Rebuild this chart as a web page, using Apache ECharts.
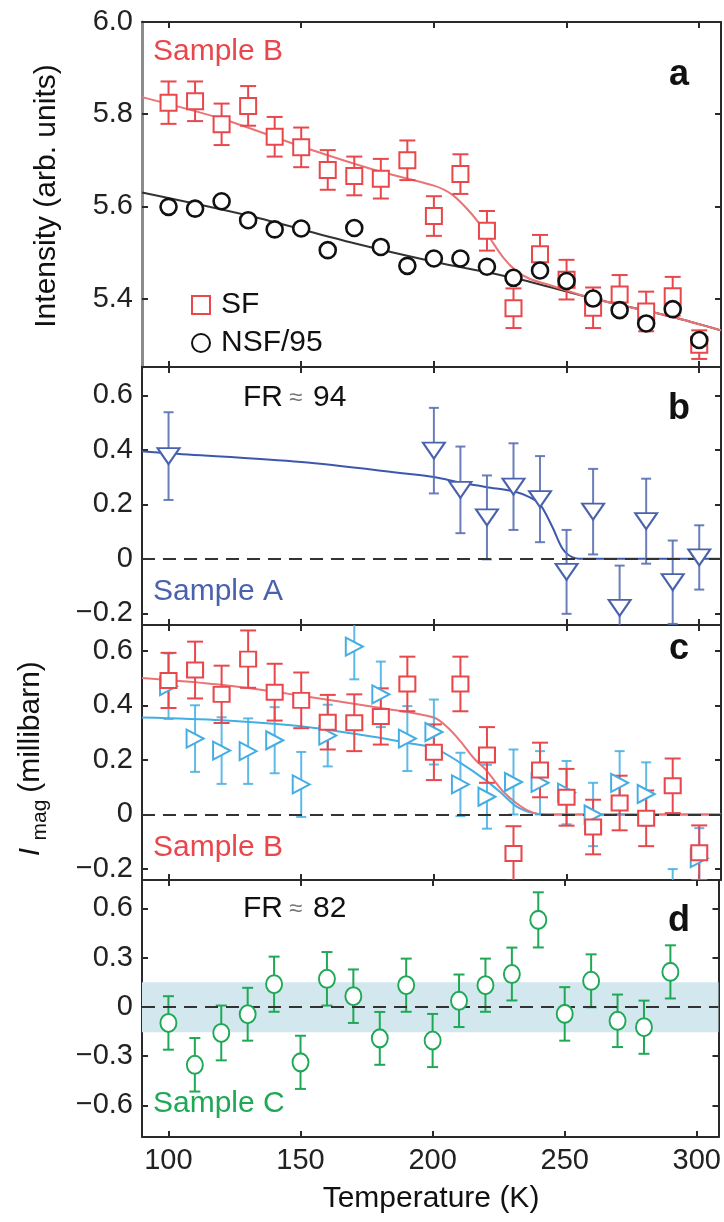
<!DOCTYPE html>
<html>
<head>
<meta charset="utf-8">
<script src="https://cdn.jsdelivr.net/npm/echarts@6/dist/echarts.min.js"></script>
<style>
  html, body { margin: 0; padding: 0; background: #fff; }
  #chart { width: 724px; height: 1222px; }
</style>
</head>
<body>
<div id="chart"></div>
<script>
// tick labels
const xTicks = [100, 150, 200, 250, 300];
const aTicks = [5.4, 5.6, 5.8, 6.0];
const bcTicks = [-0.2, 0, 0.2, 0.4, 0.6];
const dTicks = [-0.6, -0.3, 0, 0.3, 0.6];

// panel a: Sample B raw intensities
const temps = [100, 110, 120, 130, 140, 150, 160, 170, 180, 190, 200, 210, 220, 230, 240, 250, 260, 270, 280, 290, 300];
const sfInt = [5.825, 5.828, 5.778, 5.818, 5.751, 5.728, 5.679, 5.666, 5.660, 5.700, 5.579, 5.670, 5.547, 5.379, 5.496, 5.441, 5.380, 5.409, 5.372, 5.405, 5.300];
const sfErr = [0.046, 0.043, 0.045, 0.043, 0.043, 0.043, 0.043, 0.042, 0.043, 0.043, 0.043, 0.043, 0.043, 0.043, 0.042, 0.043, 0.044, 0.042, 0.043, 0.042, 0.031];
const nsfInt = [5.599, 5.595, 5.611, 5.570, 5.550, 5.552, 5.505, 5.553, 5.512, 5.471, 5.487, 5.487, 5.469, 5.445, 5.461, 5.438, 5.400, 5.375, 5.346, 5.377, 5.310];
const nsfErr = [0.008, 0.008, 0.008, 0.008, 0.008, 0.008, 0.008, 0.008, 0.008, 0.008, 0.008, 0.008, 0.008, 0.008, 0.008, 0.008, 0.008, 0.008, 0.008, 0.008, 0.008];
const fitSF = [[90, 5.837], [120, 5.79], [150, 5.73], [180, 5.675], [200, 5.645], [207, 5.625], [214, 5.585], [220, 5.54], [226, 5.49], [231, 5.46], [236, 5.443], [242, 5.432], [260, 5.40], [290, 5.36], [308.2, 5.331]];
const fitNSF = [[90, 5.63], [130, 5.58], [170, 5.52], [200, 5.48], [230, 5.445], [260, 5.40], [290, 5.36], [308.2, 5.331]];

// panel b: Sample A
const tempsA = [100, 200, 210, 220, 230, 240, 250, 260, 270, 280, 290, 300];
const magA = [0.377, 0.397, 0.253, 0.152, 0.265, 0.219, -0.048, 0.173, -0.18, 0.138, -0.086, 0.005];
const errA = [0.161, 0.157, 0.159, 0.154, 0.159, 0.158, 0.154, 0.157, 0.155, 0.156, 0.153, 0.118];
const fitA = [[90, 0.395], [100, 0.387], [150, 0.355], [190, 0.312], [200, 0.30], [210, 0.28], [220, 0.263], [230, 0.248], [236, 0.226], [240, 0.2], [244.7, 0.116], [248.5, 0.037], [252.3, 0.005], [256, 0], [308.2, 0]];

// panel c: Sample B magnetic intensity
const magBsq = [0.491, 0.529, 0.44, 0.569, 0.448, 0.418, 0.338, 0.336, 0.359, 0.478, 0.228, 0.478, 0.218, -0.143, 0.163, 0.063, -0.046, 0.042, -0.014, 0.105, -0.14];
const errBsq = [0.101, 0.104, 0.105, 0.105, 0.104, 0.102, 0.1, 0.104, 0.103, 0.1, 0.102, 0.1, 0.102, 0.1, 0.1, 0.104, 0.1, 0.1, 0.102, 0.1, 0.1];
const magBtri = [0.47, 0.278, 0.234, 0.232, 0.272, 0.11, 0.289, 0.615, 0.44, 0.278, 0.302, 0.11, 0.065, 0.119, 0.116, 0.08, 0.0, 0.116, 0.075, -0.32, -0.16];
const errBtri = [0.12, 0.122, 0.122, 0.12, 0.121, 0.119, 0.113, 0.12, 0.12, 0.119, 0.119, 0.116, 0.117, 0.119, 0.116, 0.116, 0.116, 0.116, 0.116, 0.12, 0.11];
const fitBsq = [[90, 0.50], [120, 0.475], [150, 0.435], [180, 0.39], [200, 0.355], [205, 0.32], [210, 0.268], [215, 0.207], [220, 0.159], [226, 0.085], [231, 0.042], [236, 0.012], [241, 0], [308.2, 0]];
const fitBtri = [[90, 0.355], [120, 0.345], [150, 0.323], [180, 0.28], [190, 0.262], [200, 0.244], [210, 0.189], [220, 0.122], [226, 0.073], [231, 0.03], [237, 0.006], [242, 0], [308.2, 0]];

// panel d: Sample C
const tempsC = [100, 110, 120, 130, 140, 150, 160, 170, 180, 190, 200, 210, 220, 230, 240, 250, 260, 270, 280, 290];
const magC = [-0.098, -0.353, -0.159, -0.045, 0.138, -0.338, 0.171, 0.065, -0.192, 0.132, -0.205, 0.037, 0.132, 0.2, 0.53, -0.043, 0.159, -0.085, -0.124, 0.213];
const errC = [0.163, 0.163, 0.167, 0.161, 0.168, 0.162, 0.163, 0.163, 0.161, 0.162, 0.162, 0.16, 0.162, 0.161, 0.168, 0.163, 0.161, 0.16, 0.162, 0.162];
const bandC = [-0.155, 0.15];

const FONT = '"Liberation Sans", Arial, Helvetica, sans-serif';
const AX = '#2a2a2a';
const RED = '#e8474c';
const RED_FIT = '#ec7375';
const BLUE = '#4a62ad';
const LBLUE = '#43aee3';
const GREEN = '#1fa855';

const panels = [
  { top: 22, height: 345, min: 5.2515, max: 6.0, ticks: aTicks },
  { top: 367, height: 258, min: -0.243, max: 0.704, ticks: bcTicks },
  { top: 625, height: 255, min: -0.24, max: 0.694, ticks: bcTicks },
  { top: 880, height: 257, min: -0.793, max: 0.773, ticks: dTicks },
];

const fmt = (v) => (v === 0 ? '0' : (v < 0 ? '\u2212' : '') + Math.abs(v).toFixed(1));

const grids = [];
const xAxes = [];
const yAxes = [];
panels.forEach((p, i) => {
  grids.push({ left: 142, right: 3, top: p.top, height: p.height });
  ['bottom', 'top'].forEach((pos) => {
    xAxes.push({
      type: 'value', gridIndex: i, position: pos, min: 90, max: 308.2,
      axisLine: { show: true, onZero: false, lineStyle: { color: AX, width: 2 } },
      axisTick: { show: true, inside: true, length: 6, customValues: xTicks, lineStyle: { color: AX, width: 2 } },
      axisLabel: {
        show: pos === 'bottom' && i === 3, customValues: xTicks, margin: 9,
        fontSize: 29, color: '#222', fontFamily: FONT,
      },
      splitLine: { show: false },
    });
  });
  ['left', 'right'].forEach((pos) => {
    const grey = i === 0 && pos === 'left';
    yAxes.push({
      type: 'value', gridIndex: i, position: pos, min: p.min, max: p.max,
      axisLine: { show: true, onZero: false, lineStyle: { color: grey ? '#8c8c8c' : AX, width: grey ? 3 : 2 } },
      axisTick: { show: true, inside: true, length: 6, customValues: p.ticks, lineStyle: { color: AX, width: 2 } },
      axisLabel: {
        show: pos === 'left', customValues: p.ticks, margin: 9, formatter: fmt,
        fontSize: 29, color: '#222', fontFamily: FONT,
      },
      splitLine: { show: false },
    });
  });
});

function errBars(gi, xs, ys, es, color, cap, opacity) {
  return {
    type: 'custom', xAxisIndex: gi * 2, yAxisIndex: gi * 2, z: 3, silent: true, clip: true,
    data: xs.map((x, k) => [x, ys[k] - es[k], ys[k] + es[k]]),
    renderItem: (params, api) => {
      const lo = api.coord([api.value(0), api.value(1)]);
      const hi = api.coord([api.value(0), api.value(2)]);
      const h = cap / 2;
      const style = { stroke: color, lineWidth: 2, opacity: opacity || 1 };
      return {
        type: 'group',
        children: [
          { type: 'line', shape: { x1: lo[0], y1: lo[1], x2: hi[0], y2: hi[1] }, style },
          { type: 'line', shape: { x1: lo[0] - h, y1: lo[1], x2: lo[0] + h, y2: lo[1] }, style },
          { type: 'line', shape: { x1: hi[0] - h, y1: hi[1], x2: hi[0] + h, y2: hi[1] }, style },
        ],
      };
    },
  };
}

function marks(gi, name, xs, ys, symbol, size, color, rotate, bw) {
  return {
    type: 'scatter', name, xAxisIndex: gi * 2, yAxisIndex: gi * 2, z: 5, clip: true,
    symbol, symbolSize: size, symbolRotate: rotate || 0,
    itemStyle: { color: '#fff', borderColor: color, borderWidth: bw || 2, opacity: 1 },
    data: xs.map((x, k) => [x, ys[k]]),
  };
}

function curve(gi, pts, color) {
  return {
    type: 'line', xAxisIndex: gi * 2, yAxisIndex: gi * 2, z: 2, silent: true,
    smooth: 0.3, showSymbol: false, clip: true,
    lineStyle: { color, width: 2 },
    data: pts,
  };
}

const zeroLine = {
  silent: true, symbol: 'none', label: { show: false },
  lineStyle: { type: [13, 8], color: '#333', width: 2 },
  data: [{ yAxis: 0 }],
};

const fitA_s = curve(1, fitA, '#3d58ab');
fitA_s.markLine = zeroLine;
const fitBsq_s = curve(2, fitBsq, RED_FIT);
fitBsq_s.markLine = zeroLine;
const errC_s = errBars(3, tempsC, magC, errC, GREEN, 11);
errC_s.markLine = zeroLine;
errC_s.markArea = {
  silent: true, itemStyle: { color: '#d3e7ee' },
  data: [[{ yAxis: bandC[0] }, { yAxis: bandC[1] }]],
};

const sqC = marks(2, 'Bsq', temps, magBsq, 'rect', [16, 15], RED);
sqC.z = 6;

const series = [
  // a
  curve(0, fitNSF, '#333'),
  curve(0, fitSF, RED_FIT),
  errBars(0, temps, sfInt, sfErr, RED, 16),
  errBars(0, temps, nsfInt, nsfErr, '#111', 14),
  marks(0, 'SF', temps, sfInt, 'rect', [16, 16], RED),
  marks(0, 'NSF/95', temps, nsfInt, 'circle', [16, 16], '#111', 0, 2.6),
  // b
  fitA_s,
  errBars(1, tempsA, magA, errA, '#5a70b5', 10, 0.9),
  marks(1, 'A', tempsA, magA, 'triangle', [22, 16], BLUE, 180),
  // c
  curve(2, fitBtri, LBLUE),
  fitBsq_s,
  errBars(2, temps, magBtri, errBtri, LBLUE, 10, 0.85),
  marks(2, 'Btri', temps, magBtri, 'triangle', [18, 17], LBLUE, -90),
  errBars(2, temps, magBsq, errBsq, RED, 16),
  sqC,
  // d
  errC_s,
  marks(3, 'C', tempsC, magC, 'circle', [16, 18], GREEN),
];

function txt(x, y, text, size, fill, extra) {
  return {
    type: 'text', x, y, silent: true,
    style: Object.assign({
      text, fill, font: size + 'px ' + FONT, align: 'left', verticalAlign: 'middle',
    }, extra || {}),
  };
}
function bold(x, y, text) {
  return {
    type: 'text', x, y, silent: true,
    style: { text, fill: '#111', font: 'bold 36px ' + FONT, align: 'center', verticalAlign: 'middle' },
  };
}

const graphic = [
  txt(153, 52, 'Sample B', 30, RED),
  txt(153, 592, 'Sample A', 30, BLUE),
  txt(153, 848, 'Sample B', 30, RED),
  txt(153, 1104, 'Sample C', 30, GREEN),
  txt(243, 398, 'FR', 30, '#111'),
  txt(289, 398, '\u2248', 24, '#777'),
  txt(313, 398, '94', 30, '#111'),
  txt(243, 909, 'FR', 30, '#111'),
  txt(289, 909, '\u2248', 24, '#777'),
  txt(313, 909, '82', 30, '#111'),
  bold(679, 75, 'a'),
  bold(679, 409, 'b'),
  bold(679, 649, 'c'),
  bold(679, 921, 'd'),
  txt(431, 1199, 'Temperature (K)', 30, '#111', { align: 'center' }),
  Object.assign(txt(47, 196, 'Intensity (arb. units)', 30, '#111', { align: 'center' }), { rotation: Math.PI / 2 }),
  Object.assign(txt(31, 852, 'I', 30, '#111', { align: 'center', font: 'italic 30px ' + FONT }), { rotation: Math.PI / 2 }),
  Object.assign(txt(40, 820, 'mag', 21, '#111', { align: 'center' }), { rotation: Math.PI / 2 }),
  Object.assign(txt(31, 727, '(millibarn)', 30, '#111', { align: 'center' }), { rotation: Math.PI / 2 }),
];

const chart = echarts.init(document.getElementById('chart'));
chart.setOption({
  animation: false,
  backgroundColor: '#fff',
  grid: grids,
  xAxis: xAxes,
  yAxis: yAxes,
  legend: [
    {
      data: ['SF'], left: 186, top: 285, itemWidth: 18, itemHeight: 18,
      textStyle: { fontSize: 30, color: '#111', fontFamily: FONT, padding: [0, 0, 0, 6] },
    },
    {
      data: ['NSF/95'], left: 186, top: 323, itemWidth: 18, itemHeight: 18,
      textStyle: { fontSize: 30, color: '#111', fontFamily: FONT, padding: [0, 0, 0, 6] },
    },
  ],
  series,
  graphic,
});
</script>
</body>
</html>
